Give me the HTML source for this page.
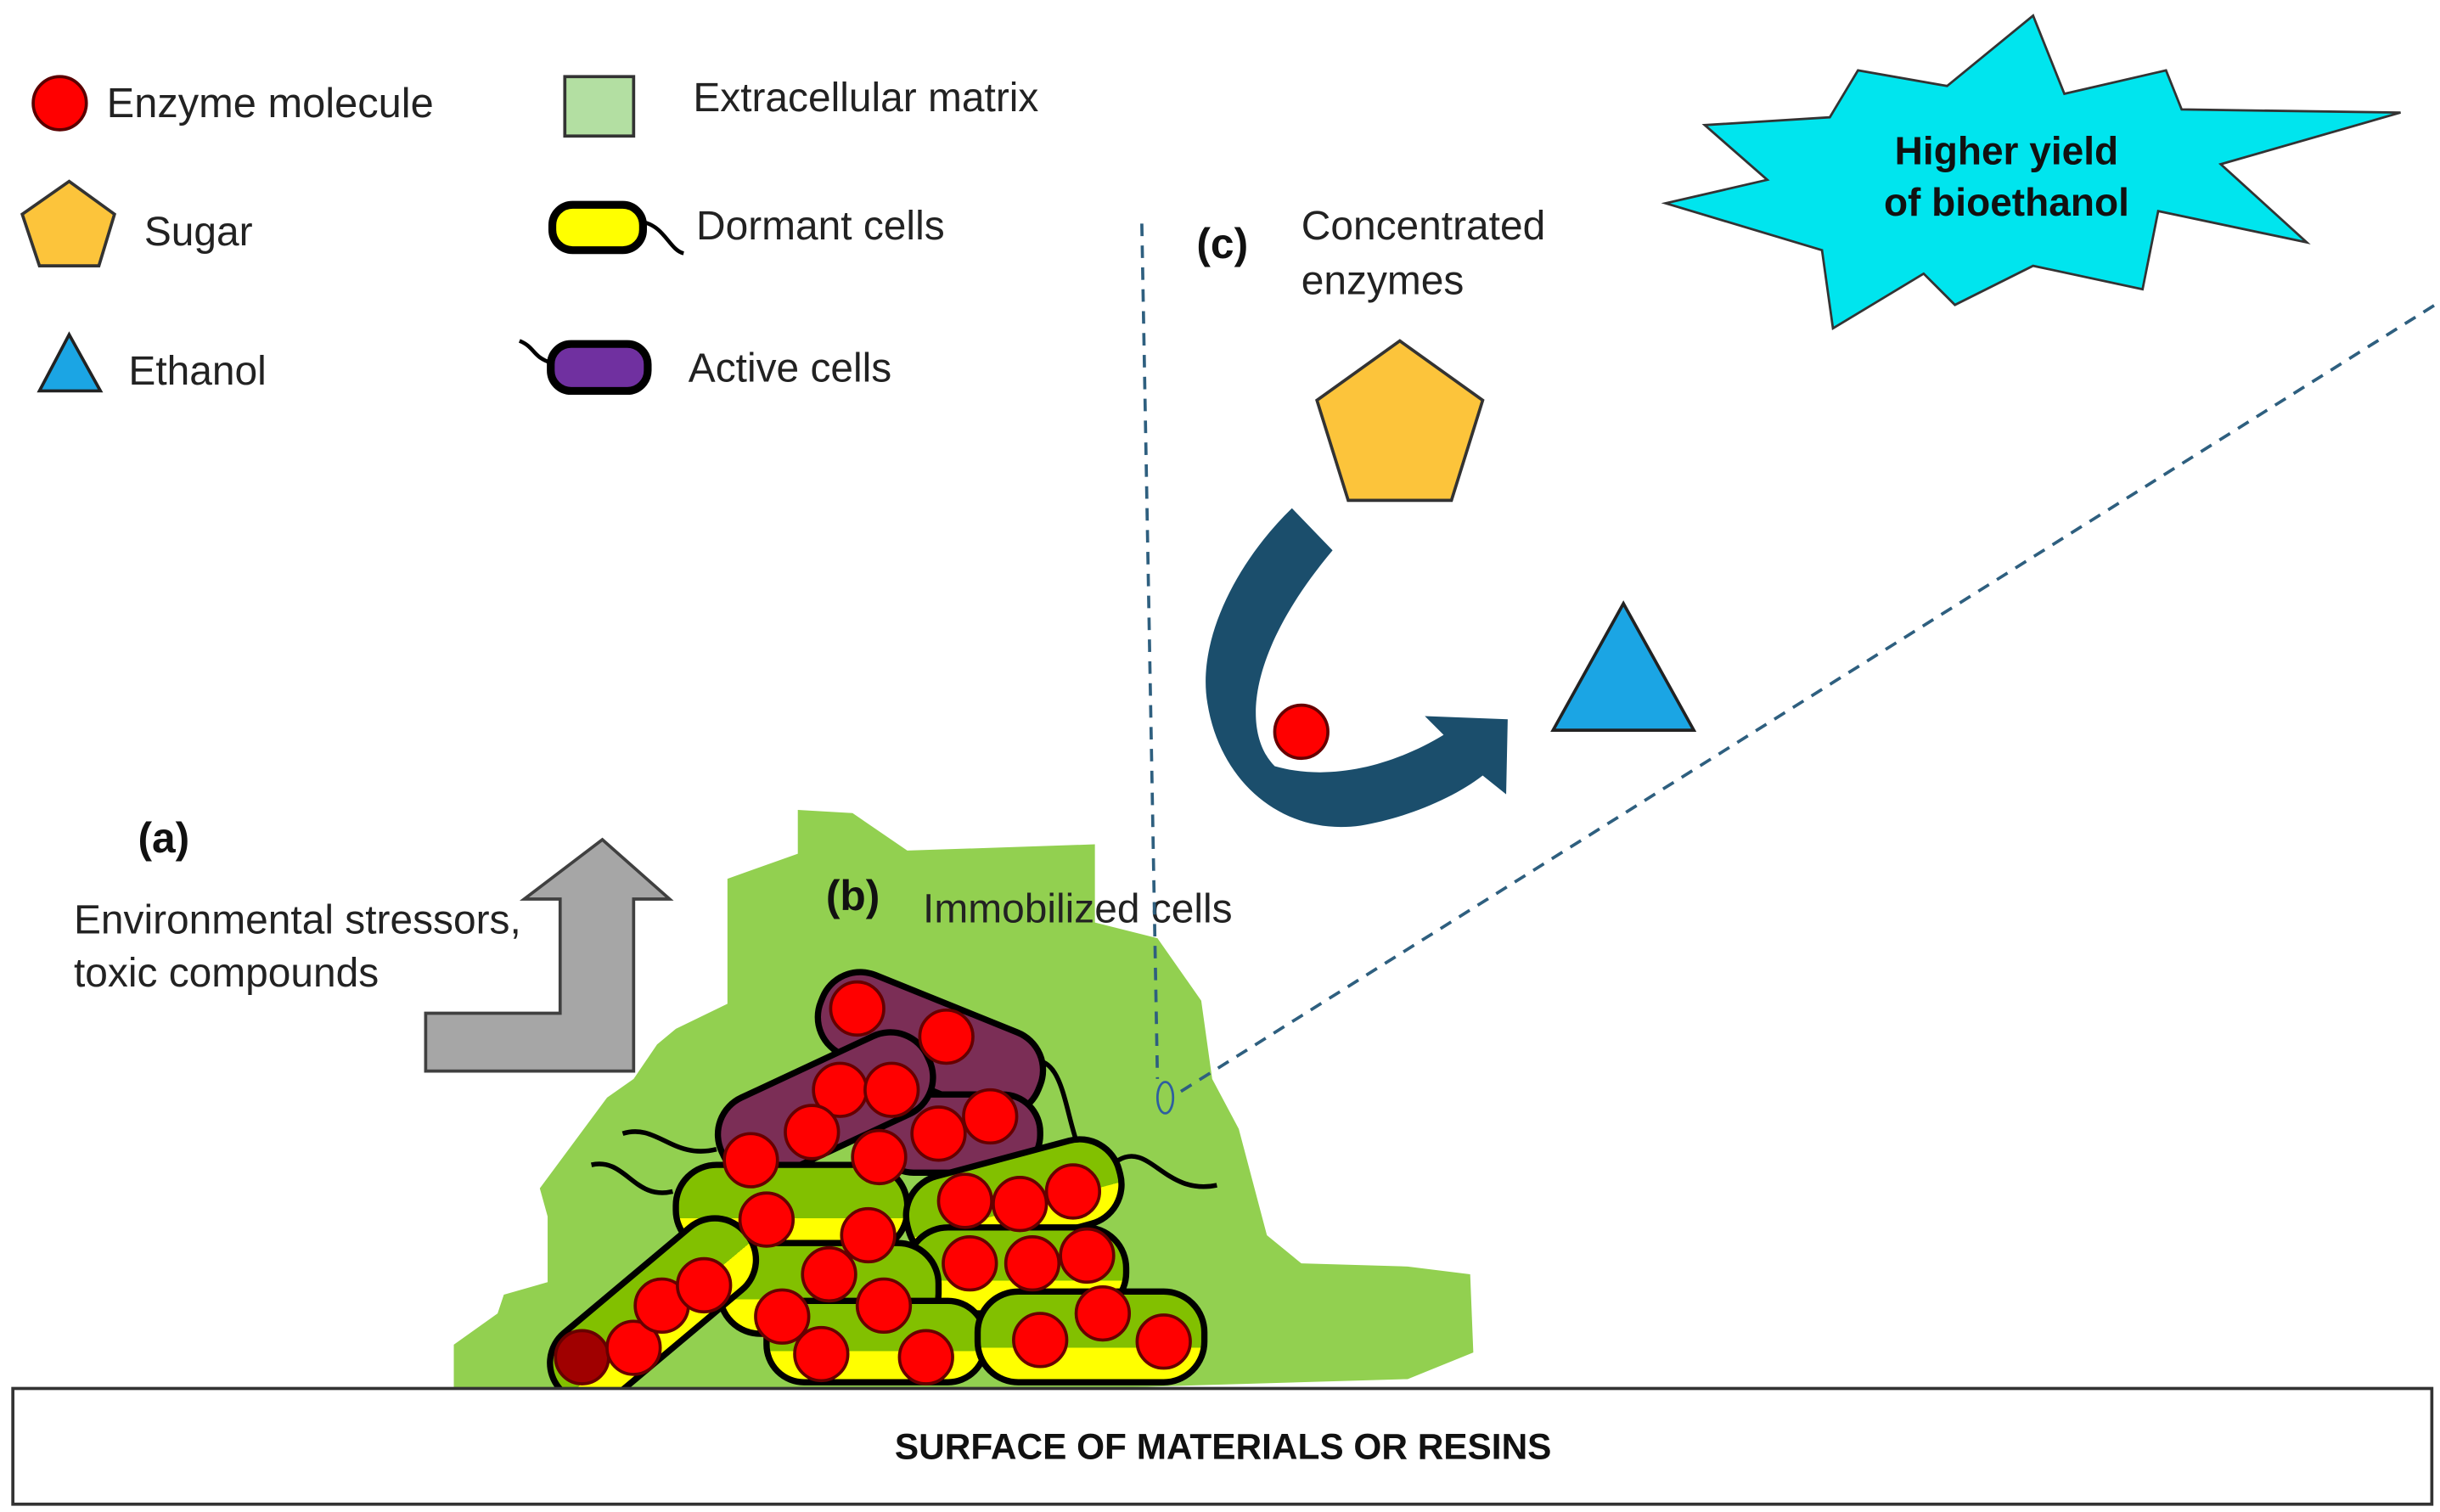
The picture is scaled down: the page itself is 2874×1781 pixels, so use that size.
<!DOCTYPE html>
<html><head><meta charset="utf-8"><style>html,body{margin:0;padding:0;background:#fff}svg{display:block}text{font-family:"Liberation Sans",sans-serif;fill:#222}</style></head>
<body>
<svg width="2874" height="1781" viewBox="0 0 1560 967" xmlns="http://www.w3.org/2000/svg">
<defs>
<linearGradient id="gy" x1="0" y1="0" x2="0" y2="1"><stop offset="0" stop-color="#82c000"/><stop offset="0.62" stop-color="#82c000"/><stop offset="0.62" stop-color="#ffff00"/><stop offset="1" stop-color="#ffff00"/></linearGradient>
</defs>
<!-- Legend -->
<circle cx="38" cy="66" r="17" fill="#ff0000" stroke="#5a0000" stroke-width="2"/>
<text x="68" y="75" font-size="26.5">Enzyme molecule</text>
<rect x="361" y="49" width="44" height="38" fill="#b3dfa2" stroke="#333" stroke-width="2"/>
<text x="443" y="71" font-size="26">Extracellular matrix</text>
<polygon points="44,116 73,137 63,170 25,170 14,137" fill="#fcc43b" stroke="#333" stroke-width="2"/>
<text x="92" y="157" font-size="26">Sugar</text>
<rect x="353" y="131" width="58" height="29" rx="13" fill="#ffff00" stroke="#000" stroke-width="5"/>
<path d="M411,142 C425,145 428,160 437,162" fill="none" stroke="#000" stroke-width="2.5"/>
<text x="445" y="153" font-size="26">Dormant cells</text>
<polygon points="44,214 64,250 25,250" fill="#1ba5e4" stroke="#222" stroke-width="2"/>
<text x="82" y="246" font-size="26">Ethanol</text>
<rect x="352" y="220" width="62" height="30" rx="13" fill="#7030a0" stroke="#000" stroke-width="5"/>
<path d="M352,232 C340,228 342,222 332,218" fill="none" stroke="#000" stroke-width="2.5"/>
<text x="440" y="244" font-size="26">Active cells</text>

<!-- starburst -->
<polygon points="1188,45 1245,55 1300,10 1320,60 1385,45 1395,70 1535,72 1420,105 1475,155 1380,135 1370,185 1300,170 1250,195 1230,175 1172,210 1165,160 1065,130 1130,115 1090,80 1170,75" fill="#00e5ee" stroke="#333" stroke-width="1.5"/>
<text x="1283" y="105" font-size="25" font-weight="bold" text-anchor="middle" style="fill:#111">Higher yield</text>
<text x="1283" y="138" font-size="25" font-weight="bold" text-anchor="middle" style="fill:#111">of bioethanol</text>

<!-- (c) -->
<text x="765" y="165" font-size="27" font-weight="bold" style="fill:#111">(c)</text>
<text x="832" y="153" font-size="26">Concentrated</text>
<text x="832" y="188" font-size="26">enzymes</text>
<polygon points="895,218 948,256 928,320 862,320 842,256" fill="#fcc43b" stroke="#333" stroke-width="2"/>
<path d="M826,325 C790,360 765,410 772,450 C780,500 820,535 870,528 C900,523 930,510 948,496 L963,508 L964,460 L911,458 L923,470 C890,490 850,500 815,490 C795,470 795,420 852,352 Z" fill="#1b4e6c"/>
<circle cx="832" cy="468" r="17" fill="#ff0000" stroke="#600" stroke-width="2"/>
<polygon points="1038,386 1083,467 993,467" fill="#1ba5e4" stroke="#222" stroke-width="2"/>

<!-- (a) -->
<text x="88" y="545" font-size="27" font-weight="bold" style="fill:#111">(a)</text>
<text x="47" y="597" font-size="26">Environmental stressors,</text>
<text x="47" y="631" font-size="26">toxic compounds</text>
<polygon points="272,685 272,648 358,648 358,575 335,575 385,537 428,575 405,575 405,685" fill="#a6a6a6" stroke="#404040" stroke-width="2"/>

<!-- matrix blob -->
<polygon points="290,900 290,860 318,840 322,828 350,820 350,778 345,760 388,702 405,690 420,668 432,658 465,642 465,562 510,546 510,518 545,520 580,544 700,540 700,590 740,600 768,640 775,690 792,722 810,790 832,808 900,810 940,815 942,865 900,882" fill="#92d050"/>

<text x="528" y="582" font-size="27" font-weight="bold" style="fill:#111">(b)</text>
<text x="590" y="590" font-size="26">Immobilized cells</text>

<!-- flagella -->
<g fill="none" stroke="#000" stroke-width="3">
<path d="M378,745 C400,740 405,768 430,762"/>
<path d="M398,725 C420,718 430,742 458,735"/>
<path d="M715,742 C735,730 745,765 778,758"/>
<path d="M655,680 C680,670 680,710 690,735"/>
<path d="M620,740 C640,730 660,745 672,738"/>
</g>

<!-- cells -->
<g stroke="#000" stroke-width="4">
<rect x="520" y="640" width="150" height="55" rx="26" fill="#7b2e56" transform="rotate(22 595 667)"/>
<rect x="560" y="700" width="105" height="50" rx="24" fill="#7b2e56"/>
<rect x="455" y="680" width="145" height="55" rx="26" fill="#7b2e56" transform="rotate(-25 527 707)"/>
<rect x="432" y="745" width="148" height="55" rx="26" fill="url(#gy)"/>
<rect x="578" y="740" width="140" height="55" rx="26" fill="url(#gy)" transform="rotate(-15 648 767)"/>
<rect x="580" y="785" width="140" height="55" rx="26" fill="url(#gy)"/>
<rect x="460" y="795" width="140" height="58" rx="26" fill="url(#gy)"/>
<rect x="490" y="832" width="140" height="52" rx="24" fill="url(#gy)"/>
<rect x="625" y="826" width="145" height="58" rx="26" fill="url(#gy)"/>
<rect x="340" y="813" width="155" height="52" rx="25" fill="url(#gy)" transform="rotate(-40 417 839)"/>
</g>
<g stroke="#600" stroke-width="2" fill="#ff0000">
<circle cx="548" cy="645" r="17"/><circle cx="605" cy="663" r="17"/>
<circle cx="600" cy="725" r="17"/><circle cx="633" cy="714" r="17"/><circle cx="562" cy="740" r="17"/>
<circle cx="537" cy="697" r="17"/><circle cx="570" cy="697" r="17"/><circle cx="519" cy="724" r="17"/><circle cx="480" cy="742" r="17"/>
<circle cx="490" cy="780" r="17"/><circle cx="555" cy="790" r="17"/>
<circle cx="617" cy="768" r="17"/><circle cx="652" cy="770" r="17"/><circle cx="686" cy="762" r="17"/>
<circle cx="620" cy="808" r="17"/><circle cx="660" cy="808" r="17"/><circle cx="695" cy="803" r="17"/>
<circle cx="530" cy="815" r="17"/><circle cx="565" cy="835" r="17"/><circle cx="500" cy="842" r="17"/>
<circle cx="525" cy="866" r="17"/><circle cx="592" cy="868" r="17"/>
<circle cx="665" cy="857" r="17"/><circle cx="705" cy="840" r="17"/><circle cx="744" cy="858" r="17"/>
<circle cx="372" cy="868" r="17" fill="#a00000"/><circle cx="405" cy="862" r="17"/><circle cx="423" cy="835" r="17"/><circle cx="450" cy="822" r="17"/>
</g>

<!-- dashed lines -->
<g fill="none" stroke="#2e5f7f" stroke-width="2" stroke-dasharray="8,6">
<path d="M730,143 L740,690"/>
<path d="M755,698 L1557,195"/>
</g>
<ellipse cx="745" cy="702" rx="5" ry="10" fill="none" stroke="#2e5f9f" stroke-width="1.5"/>

<!-- surface -->
<rect x="8" y="888" width="1547" height="74" fill="#fff" stroke="#333" stroke-width="2"/>
<text x="782" y="933" font-size="23" font-weight="bold" text-anchor="middle" style="fill:#111">SURFACE OF MATERIALS OR RESINS</text>
</svg>
</body></html>
